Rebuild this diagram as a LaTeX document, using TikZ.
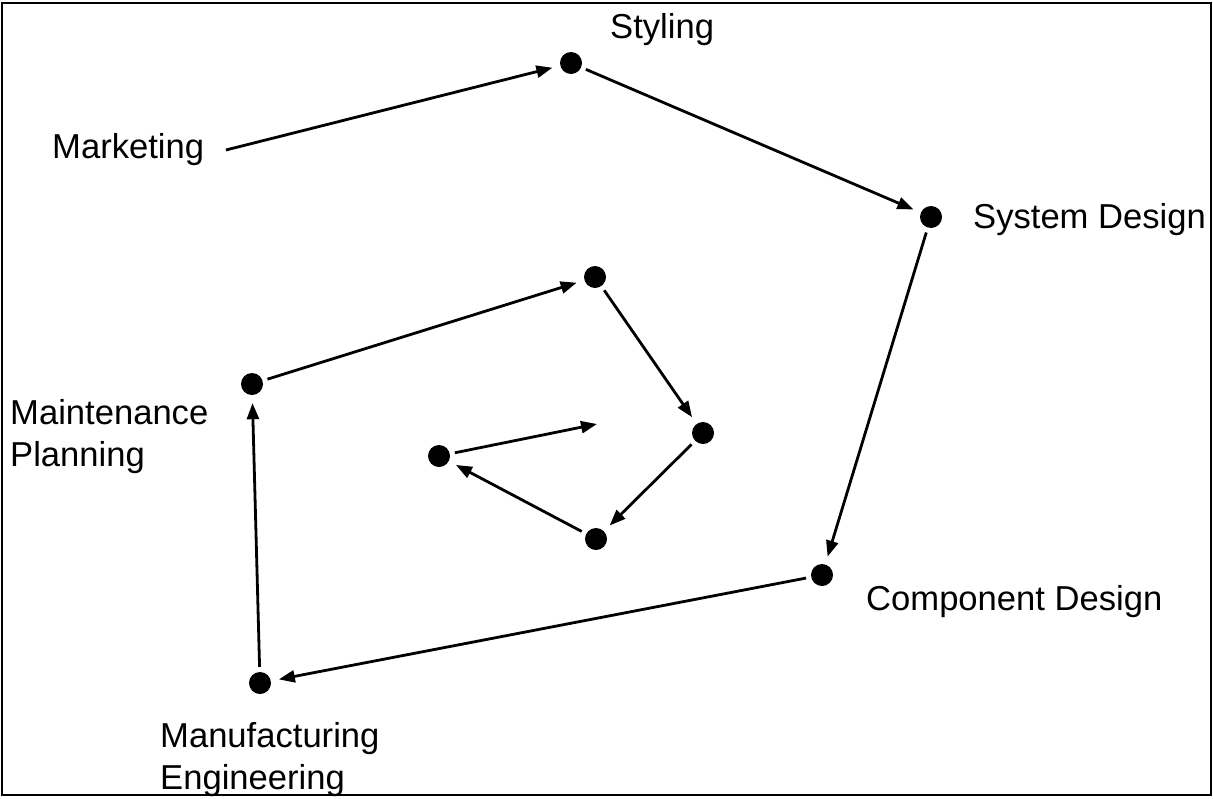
\documentclass[tikz,border=0pt]{standalone}
\usepackage{fontspec}
\setmainfont{Liberation Sans}
\usetikzlibrary{arrows.meta}
\begin{document}
\begin{tikzpicture}[x=1pt,y=-1pt,
  dot/.style={circle,fill=black,inner sep=0pt,minimum size=22pt},
  lbl/.style={inner sep=0pt,font=\fontsize{34.6}{41.5}\selectfont,align=left},
  conn/.style={line width=2.8pt,-{Triangle[length=16pt,width=12pt]},shorten <=5pt,shorten >=8pt}]
\useasboundingbox (0,0) rectangle (1213,798);
\draw[line width=2.2pt] (2,3) rectangle (1211,795);
% dots
\node[dot] (sty) at (571,63) {};
\node[dot] (sys) at (931,217) {};
\node[dot] (comp) at (822,575) {};
\node[dot] (manu) at (260,683) {};
\node[dot] (main) at (252,384) {};
\node[dot] (itop) at (595,277) {};
\node[dot] (iright) at (703,433) {};
\node[dot] (ibot) at (596,539) {};
\node[dot] (ileft) at (439,456) {};
\coordinate (iend) at (597,424);
\coordinate (mkstart) at (226,150);
% labels
\node[lbl,anchor=base west] (lsty) at (610,38) {Styling};
\node[lbl,anchor=base west] (lmk) at (52,158) {Marketing};
\node[lbl,anchor=base west] (lsys) at (973,228) {System Design};
\node[lbl,anchor=base west] (lcomp) at (866,610) {Component Design};
\node[lbl,anchor=base west] (lmain) at (10,466) {Maintenance\\Planning};
\node[lbl,anchor=base west] (lmanu) at (160,789) {Manufacturing\\Engineering};
% connectors
\draw[conn,shorten <=0pt] (mkstart) -- (sty);
\draw[conn] (sty) -- (sys);
\draw[conn] (sys) -- (comp);
\draw[conn] (comp) -- (manu);
\draw[conn] (manu) -- (main);
\draw[conn] (main) -- (itop);
\draw[conn] (itop) -- (iright);
\draw[conn] (iright) -- (ibot);
\draw[conn] (ibot) -- (ileft);
\draw[conn,shorten >=0pt] (ileft) -- (iend);
\end{tikzpicture}
\end{document}
